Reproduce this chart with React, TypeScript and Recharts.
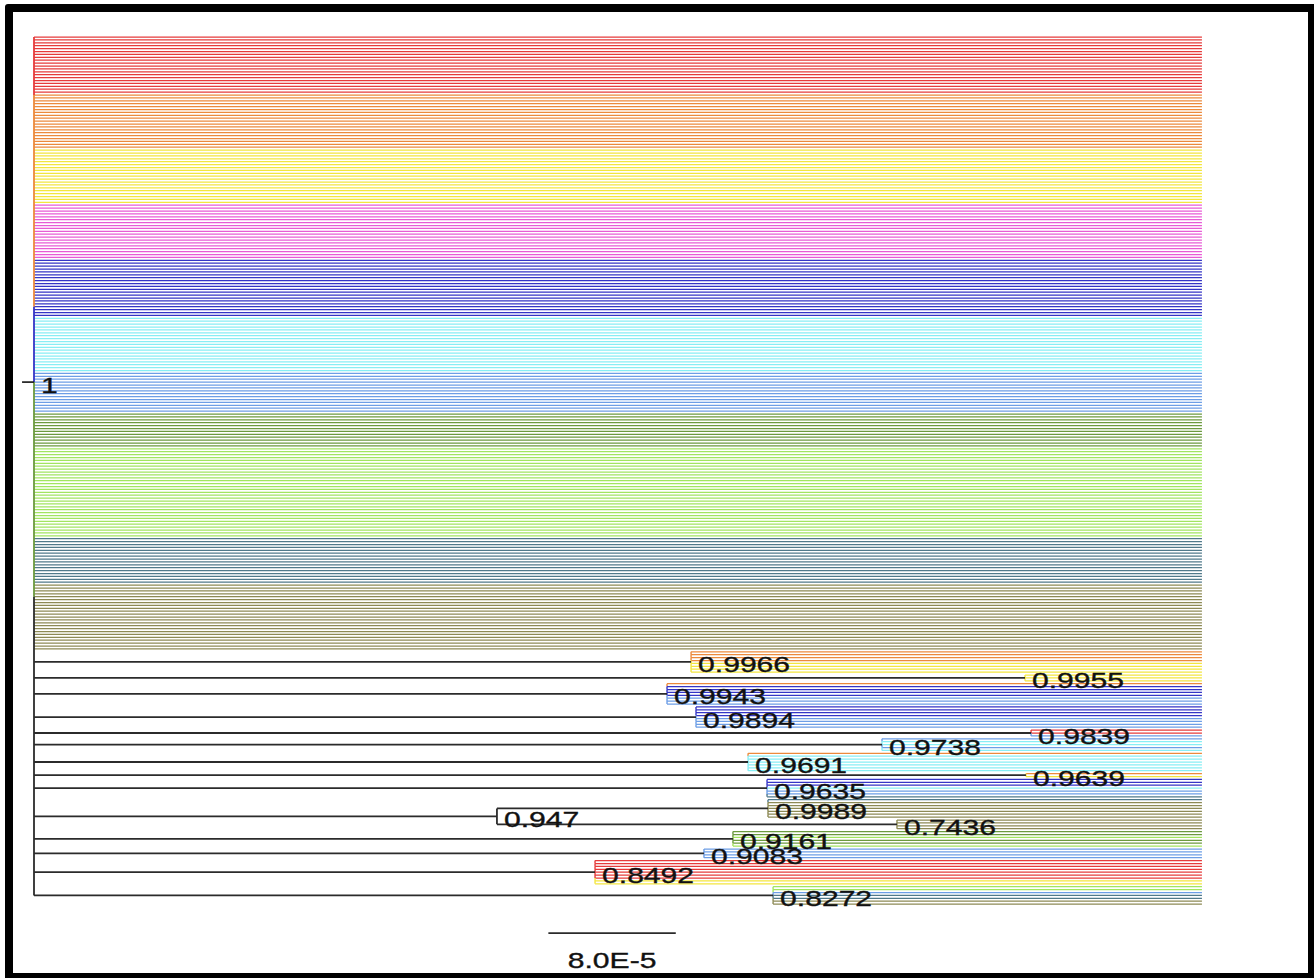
import React from "react";
import { ComposedChart, XAxis, YAxis, ReferenceLine, Scatter } from "recharts";

// leaf colour codes
const colorOf: Record<string, string> = {
  r: "#e63b3b", // red
  o: "#ec8a3c", // orange
  y: "#f3e63e", // yellow
  m: "#e85bd6", // magenta
  b: "#3535c6", // blue
  c: "#88eef4", // cyan
  s: "#6d9ee6", // sky blue
  g: "#6b9a3e", // olive green
  l: "#a2e560", // lime
  t: "#50798a", // steel
  k: "#8d8a55", // khaki
  d: "#2b2b2b", // uncoloured branch
};

// large polytomy at the root: block colour and number of leaves in each block
const rootBlocks = ["r", "o", "y", "m", "b", "c", "s", "g", "l", "t", "k"];
const rootBlockSizes = [20, 19, 19, 19, 20, 19, 14, 12, 31, 16, 23];

// supported clades below the polytomy, top to bottom
const cladeSupport = [
  "0.9966", "0.9955", "0.9943", "0.9894", "0.9839", "0.9738", "0.9691", "0.9639",
  "0.9635", "0.9989", "0.7436", "0.9161", "0.9083", "0.8492", "0.8272",
];
// distance of each clade's node from the root (subst./site)
const cladeDepth = [
  4.126e-4, 6.223e-4, 3.975e-4, 4.157e-4, 6.261e-4, 5.325e-4, 4.484e-4, 6.229e-4,
  4.603e-4, 4.609e-4, 5.419e-4, 4.389e-4, 4.207e-4, 3.523e-4, 4.641e-4,
];
// leaf colours of each clade
const cladeLeaves = [
  "ooooyyyy", "yyy", "obbbbsss", "bbbbssss", "rrs", "sccsc", "occcccc", "oy",
  "bbbcsst", "tkkkkkk", "kkkk", "gglggl", "ssss", "rrrrrrryy", "llsttkk",
];
// 0.9989 and 0.7436 are sisters under a 0.947 node
const sisterPair = [9, 10];
const sisterSupport = "0.947";
const sisterDepth = 2.907e-4;

const rootSupport = "1";
const rootRow = 119;
const rootStem = 7.5e-6;
const tipDepth = 7.334e-4;

// colouring of the root's vertical spine, by leaf row
const spineStops = [0, 20, 93, 119, 193];
const spineColors = ["r", "o", "b", "g", "d"];

const SCALE_BAR = 8e-5;
const scaleText = "8.0E-5";
const scaleStart = 3.23e-4;
const scaleRow = 309;

type Seg = { x1: number; y1: number; x2: number; y2: number; color: string; w: number };
type Tag = { x: number; y: number; text: string };

const LEAF_W = 1.25;
const STEM_W = 1.8;

const segs: Seg[] = [];
const tags: Tag[] = [];

let row = 0;
rootBlocks.forEach((code, bi) => {
  for (let k = 0; k < rootBlockSizes[bi]; k++) {
    segs.push({ x1: 0, y1: row, x2: tipDepth, y2: row, color: colorOf[code], w: LEAF_W });
    row++;
  }
});

const cladeRow: number[] = [];
cladeLeaves.forEach((codes, ci) => {
  const d = cladeDepth[ci];
  const first = row;
  const mid = first + (codes.length - 1) / 2;
  cladeRow.push(mid);
  for (let k = 0; k < codes.length; k++) {
    const r = first + k;
    segs.push({ x1: d, y1: r, x2: tipDepth, y2: r, color: colorOf[codes[k]], w: LEAF_W });
    if (k < codes.length - 1) {
      // connector piece takes the colour of the leaf farther from the node
      const outer = r + 0.5 < mid ? codes[k] : codes[k + 1];
      segs.push({ x1: d, y1: r, x2: d, y2: r + 1, color: colorOf[outer], w: 1.4 });
    }
  }
  tags.push({ x: d, y: mid, text: cladeSupport[ci] });
  row += codes.length;
});

const [pa, pb] = sisterPair;
const sisterRow = (cladeRow[pa] + cladeRow[pb]) / 2;
cladeRow.forEach((y, ci) => {
  const from = ci === pa || ci === pb ? sisterDepth : 0;
  segs.push({ x1: from, y1: y, x2: cladeDepth[ci], y2: y, color: colorOf.d, w: STEM_W });
});
segs.push({ x1: 0, y1: sisterRow, x2: sisterDepth, y2: sisterRow, color: colorOf.d, w: STEM_W });
segs.push({ x1: sisterDepth, y1: cladeRow[pa], x2: sisterDepth, y2: cladeRow[pb], color: colorOf.d, w: STEM_W });
tags.push({ x: sisterDepth, y: sisterRow, text: sisterSupport });

// root spine and stem
const spineEnd = cladeRow[cladeRow.length - 1];
spineStops.forEach((from, i) => {
  const to = i < spineStops.length - 1 ? spineStops[i + 1] : spineEnd;
  segs.push({ x1: 0, y1: from, x2: 0, y2: to, color: colorOf[spineColors[i]], w: STEM_W });
});
segs.push({ x1: -rootStem, y1: rootRow, x2: 0, y2: rootRow, color: colorOf.d, w: STEM_W });
tags.push({ x: 0, y: rootRow, text: rootSupport });

segs.push({ x1: scaleStart, y1: scaleRow, x2: scaleStart + SCALE_BAR, y2: scaleRow, color: colorOf.d, w: STEM_W });
const scaleTag: Tag[] = [{ x: scaleStart + SCALE_BAR / 2, y: scaleRow, text: scaleText }];

// plot geometry
const W = 1314;
const H = 978;
const X_DOMAIN: [number, number] = [-2e-5, 7.6e-4];
const Y_DOMAIN: [number, number] = [-4, 324];
const PX_PER_UNIT = 1.5925e6;
const PX_PER_ROW = 2.9;
const left = 34 + X_DOMAIN[0] * PX_PER_UNIT;
const plotW = (X_DOMAIN[1] - X_DOMAIN[0]) * PX_PER_UNIT;
const top = 37 + Y_DOMAIN[0] * PX_PER_ROW;
const plotH = (Y_DOMAIN[1] - Y_DOMAIN[0]) * PX_PER_ROW;

const FONT = "'Liberation Sans', Arial, Helvetica, sans-serif";

const NodeLabel = (props: any) => {
  const { cx, cy, payload } = props;
  return (
    <text
      transform={`translate(${cx + 7},${cy + 10.5}) scale(1.4,1)`}
      fontSize={21.5}
      fontFamily={FONT}
      fill="#111"
      stroke="#111"
      strokeWidth={0.35}
    >
      {payload.text}
    </text>
  );
};

const ScaleLabel = (props: any) => {
  const { cx, cy, payload } = props;
  return (
    <text
      transform={`translate(${cx},${cy + 34.5}) scale(1.4,1)`}
      textAnchor="middle"
      fontSize={21.5}
      fontFamily={FONT}
      fill="#111"
      stroke="#111"
      strokeWidth={0.35}
    >
      {payload.text}
    </text>
  );
};

export default function App() {
  return (
    <div
      style={{
        position: "absolute",
        left: 0,
        top: 0,
        width: W,
        height: H,
        overflow: "hidden",
        background: "#fff",
      }}
    >
      <div style={{ position: "absolute", left: 0, top: 0 }}>
        <ComposedChart
          width={W}
          height={H}
          margin={{ left, top, right: W - left - plotW, bottom: H - top - plotH }}
        >
          <XAxis type="number" dataKey="x" domain={X_DOMAIN} allowDataOverflow hide />
          <YAxis type="number" dataKey="y" domain={Y_DOMAIN} allowDataOverflow reversed hide />
          {segs.map((s, i) => (
            <ReferenceLine
              key={i}
              segment={[
                { x: s.x1, y: s.y1 },
                { x: s.x2, y: s.y2 },
              ]}
              stroke={s.color}
              strokeWidth={s.w}
              ifOverflow="visible"
            />
          ))}
          <Scatter data={tags} shape={NodeLabel} isAnimationActive={false} />
          <Scatter data={scaleTag} shape={ScaleLabel} isAnimationActive={false} />
        </ComposedChart>
      </div>
      <div
        style={{
          position: "absolute",
          left: 5,
          top: 4,
          width: 1295,
          height: 961,
          border: "8px solid #000",
          borderRadius: 3,
        }}
      />
    </div>
  );
}
